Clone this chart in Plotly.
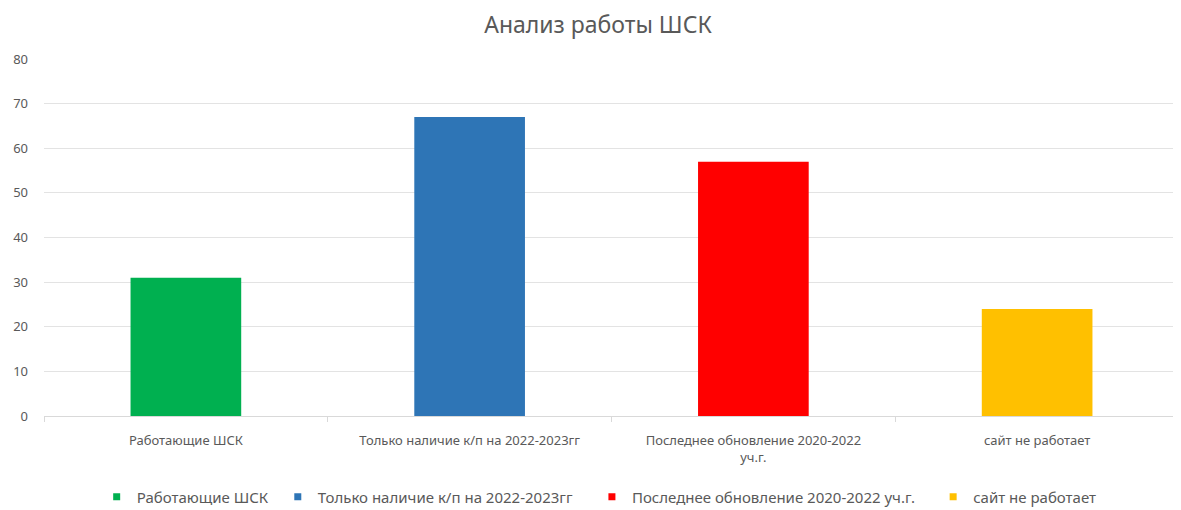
import plotly.graph_objects as go

categories = ["Работающие ШСК", "Только наличие к/п на 2022-2023гг",
              "Последнее обновление 2020-2022 уч.г.", "сайт не работает"]
tick_labels = ["Работающие ШСК", "Только наличие к/п на 2022-2023гг",
               "Последнее обновление 2020-2022<br>уч.г.", "сайт не работает"]
values = [31, 67, 57, 24]
colors = ["#00B050", "#2E75B6", "#FF0000", "#FFC000"]
legend_x = [0.0756, 0.230, 0.4978, 0.7887]

FONT = "Noto Sans"
GREY = "#595959"
W, H = 1173, 502

fig = go.Figure()
for cat, val, col in zip(categories, values, colors):
    fig.add_trace(go.Bar(x=[cat], y=[val], name=cat, marker_color=col,
                         marker_line_width=0, showlegend=False))
legend_layout = {}
for i, (cat, col, lx) in enumerate(zip(categories, colors, legend_x)):
    key = "legend" if i == 0 else f"legend{i+1}"
    fig.add_trace(go.Scatter(x=[None], y=[None], mode="markers", name=cat,
                             legend=key,
                             marker=dict(symbol="square", size=7, color=col)))
    legend_layout[key] = dict(orientation="h", xref="container", yref="container",
                              x=lx, xanchor="left", y=0.026, yanchor="middle",
                              font=dict(family=FONT, size=15, color=GREY),
                              itemwidth=30, bgcolor="rgba(0,0,0,0)", borderwidth=0)

fig.update_layout(
    width=W, height=H,
    margin=dict(l=36, r=2, t=51, b=94),
    paper_bgcolor="white", plot_bgcolor="white",
    barmode="overlay", bargap=0.61,
    title=dict(text="Анализ работы ШСК", x=0.503, xanchor="center", xref="container",
               y=0.966, yanchor="middle", yref="container",
               font=dict(family=FONT, size=23, color=GREY)),
    font=dict(family=FONT, size=13, color=GREY),
    showlegend=True,
    **legend_layout,
)
fig.update_xaxes(categoryorder="array", categoryarray=categories,
                 tickvals=categories, ticktext=tick_labels,
                 showline=True, linecolor="#D9D9D9", linewidth=1,
                 ticks="outside", tickson="boundaries", ticklen=5, tickcolor="#D9D9D9",
                 showgrid=False, tickfont=dict(size=13, color=GREY), ticklabelstandoff=12,
                 automargin=False)
fig.update_yaxes(range=[0, 80], dtick=10, showgrid=True, gridcolor="#E3E3E3", gridwidth=1,
                 zeroline=False, showline=False, tickfont=dict(size=13, color=GREY),
                 ticklabelstandoff=15, automargin=False)

fig.write_html("out.html")
